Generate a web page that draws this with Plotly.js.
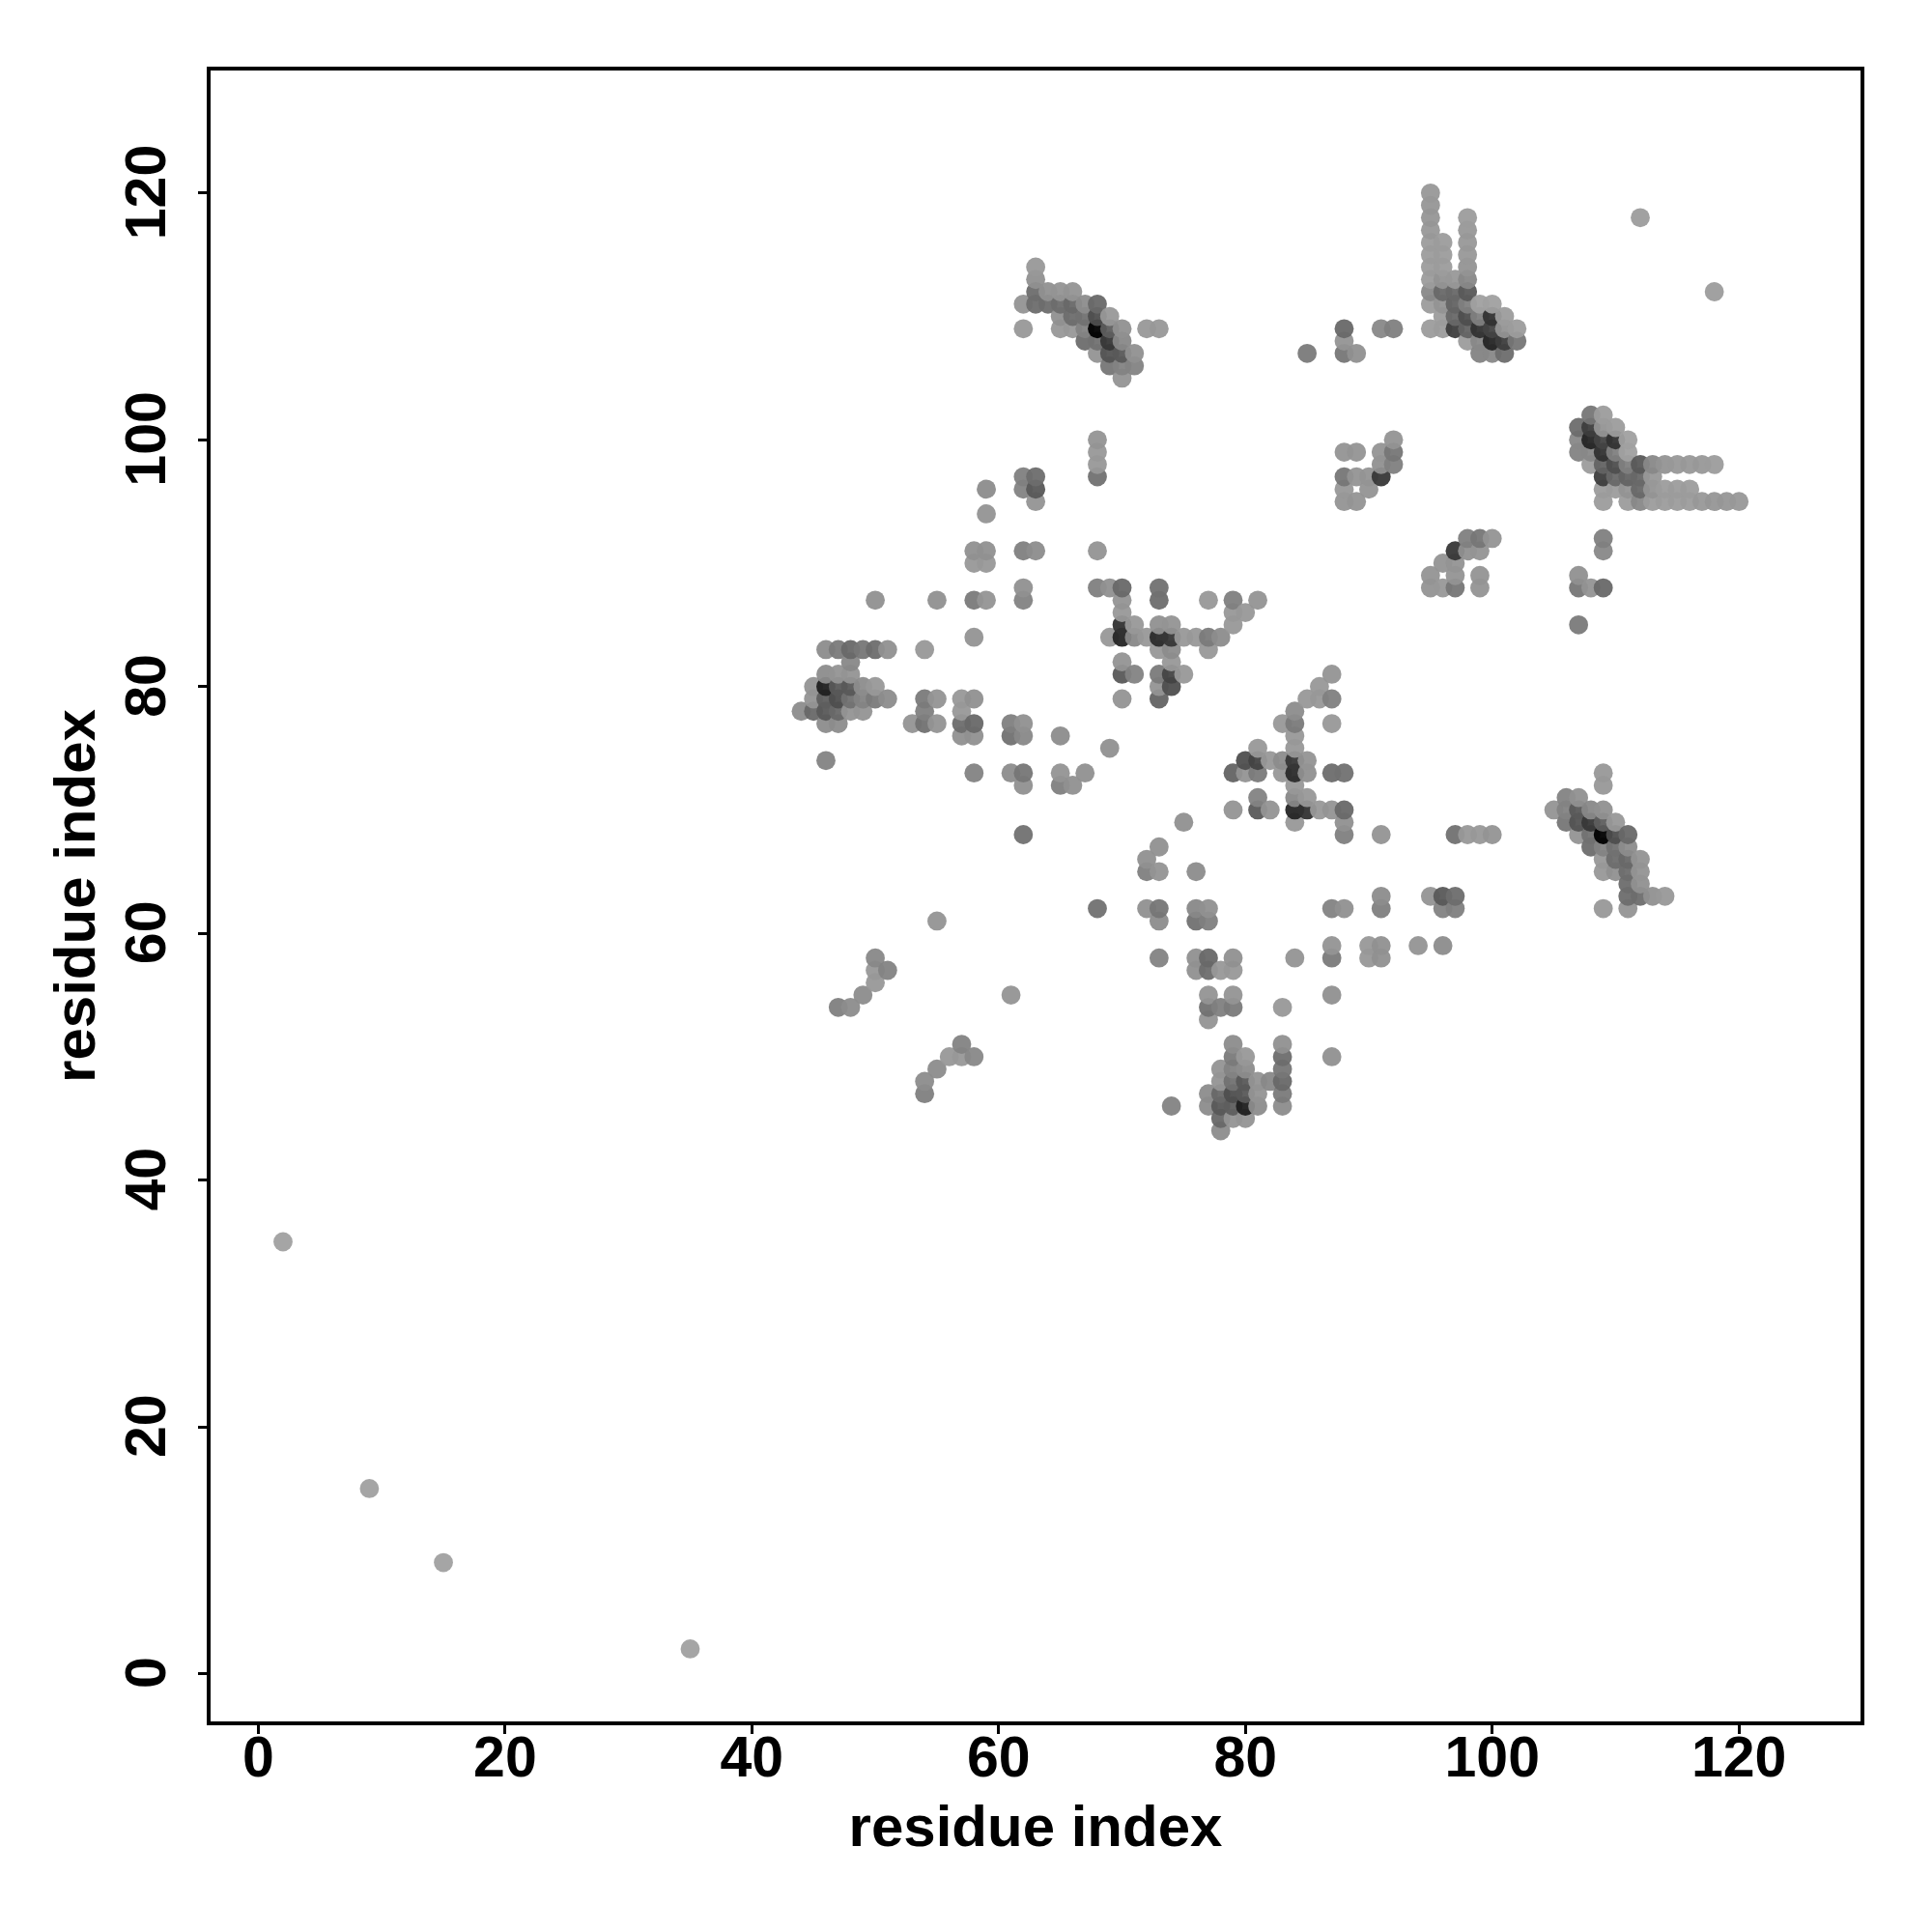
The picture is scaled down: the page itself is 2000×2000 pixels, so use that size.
<!DOCTYPE html>
<html>
<head>
<meta charset="utf-8">
<script src="https://cdn.plot.ly/plotly-3.0.1.min.js"></script>
<style>html,body{margin:0;padding:0;background:#fff}</style>
</head>
<body>
<div id="chart" style="width:2000px;height:2000px"></div>
<script>
// Contact pairs (i < j); each line holds one value of i. The map is symmetric, so each pair is drawn as (i,j) and (j,i).
const residueI = [
2,
9,
44,
45,45,45,
46,46,46,46,46,46,46,
47,47,47,47,47,47,47,
48,48,48,48,48,48,48,
49,49,49,49,49,
50,50,50,50,50,50,50,
51,51,51,
53,
54,54,54,54,
55,55,55,55,
57,57,57,57,
58,58,58,58,58,58,58,58,
59,59,59,59,59,
61,61,61,
62,62,62,62,62,62,62,62,62,62,62,62,
63,63,63,63,63,63,63,63,
64,64,
65,65,65,65,65,65,65,
66,66,66,66,66,
67,67,67,67,67,
68,68,68,68,68,68,68,68,68,68,68,
69,69,69,69,69,69,69,69,
70,70,70,70,70,70,70,70,70,70,70,70,70,
71,71,71,71,71,
72,72,
73,73,73,73,73,73,73,73,73,
74,74,74,74,74,74,
75,75,
76,
77,77,77,
78,
79,79,79,
80,
81,
85,
88,88,88,88,88,88,88,
89,89,89,89,
90,90,
91,91,91,91,
92,92,92,92,
95,95,95,95,95,95,95,95,95,95,95,
96,96,96,96,96,96,96,96,
97,97,97,97,97,
98,98,98,98,98,98,98,98,98,98,98,
99,99,99,99,99,
100,100,100,100,100,
101,101,101,101,
102,102,
112
];
const residueJ = [
35,
15,
78,
80,79,78,
83,81,80,79,78,77,74,
83,81,80,79,78,77,54,
83,82,81,80,79,78,54,
83,80,79,78,55,
87,83,80,79,58,57,56,
83,79,57,
77,
83,79,78,77,
87,79,77,61,
79,78,77,76,
91,90,87,84,79,77,76,73,
96,94,91,90,87,
77,76,73,
111,109,97,96,91,88,87,77,76,73,72,68,
114,113,112,111,97,96,95,91,
112,111,
112,111,110,109,76,73,72,
112,111,110,109,72,
111,110,109,108,73,
111,110,109,108,107,100,99,98,97,91,88,
110,109,108,107,106,88,84,75,
109,108,107,106,105,88,87,86,85,84,82,81,79,
107,106,85,84,81,
109,84,
109,88,87,85,84,83,81,80,79,
85,84,83,82,81,80,
84,81,
84,
87,84,83,
84,
87,86,85,
86,
87,
107,
109,108,107,99,97,96,95,
107,99,97,95,
97,96,
109,99,98,97,
109,100,99,98,
120,119,118,117,116,115,114,113,112,111,109,
116,115,114,113,112,111,110,109,
113,112,111,110,109,
118,117,116,115,114,113,112,111,110,109,108,
111,110,109,108,107,
111,110,109,108,107,
110,109,108,107,
109,108,
118
];
// Apparent grey level of each pair on white (0 black, 255 white).
const shade = [
165,
165,
140,
150,150,100,
140,140,35,90,85,140,130,
120,150,85,75,100,140,125,
100,135,150,85,110,150,140,
115,140,130,150,140,
145,105,155,120,135,155,155,
145,140,130,
150,
155,120,125,110,
145,150,150,150,
155,155,105,145,
145,155,120,150,145,100,145,130,
140,150,145,155,150,
125,110,140,
150,155,125,130,125,145,130,145,135,115,145,110,
155,145,105,105,105,85,150,140,
145,105,
150,105,145,155,140,150,125,
150,100,105,155,145,
140,110,130,105,145,
100,75,5,110,150,150,155,155,110,150,125,
155,90,55,80,115,145,155,145,
145,135,85,130,150,100,150,155,50,40,150,85,150,
145,130,155,135,130,
155,155,
155,110,105,145,45,155,120,150,95,
150,55,140,155,65,75,
155,155,
155,
155,120,155,
140,
125,155,155,
155,
150,
120,
100,150,115,150,115,155,150,
145,150,150,150,
150,150,
135,150,145,55,
125,150,115,125,
155,153,153,155,160,160,160,160,135,160,160,
160,160,160,150,100,150,160,160,
155,100,95,100,60,
160,155,155,155,150,135,85,125,75,95,160,
165,125,50,135,130,
165,50,65,40,135,
160,150,60,105,
160,115,
160
];
const tickValues = [0, 20, 40, 60, 80, 100, 120];
const axisLabel = 'residue index';

const FONT = '"Liberation Sans", Arial, sans-serif';
const OPACITY = 0.95;

const pts = [];
residueI.forEach(function (a, k) {
  pts.push({x: a, y: residueJ[k], g: shade[k]});
  pts.push({x: residueJ[k], y: a, g: shade[k]});
});
pts.sort(function (p, q) { return p.x - q.x || p.y - q.y; });
function colorOf(g) {
  // the mid greys were read slightly dark by eye: lift them a little
  const lifted = g + 12 * Math.sin(Math.PI * Math.min(g, 165) / 165);
  const v = Math.max(0, Math.round((lifted - 255 * (1 - OPACITY)) / OPACITY));
  return 'rgb(' + v + ',' + v + ',' + v + ')';
}

const axisBase = {
  autorange: false,
  tickmode: 'array',
  tickvals: tickValues,
  ticktext: tickValues.map(String),
  ticks: 'outside',
  ticklen: 9,
  tickwidth: 3,
  tickcolor: '#000',
  showline: true,
  linecolor: '#000',
  linewidth: 3.6,
  mirror: true,
  showgrid: false,
  zeroline: false,
  tickfont: {family: FONT, size: 59, color: '#000', weight: 'bold'}
};

Plotly.newPlot('chart', [{
  type: 'scatter',
  mode: 'markers',
  x: pts.map(function (p) { return p.x; }),
  y: pts.map(function (p) { return p.y; }),
  marker: {
    size: 19.8,
    color: pts.map(function (p) { return colorOf(p.g); }),
    opacity: OPACITY,
    line: {width: 0}
  },
  hoverinfo: 'x+y'
}], {
  width: 2000,
  height: 2000,
  margin: {l: 217.5, r: 73.5, t: 72.5, b: 217.5, pad: 0},
  paper_bgcolor: '#fff',
  plot_bgcolor: '#fff',
  showlegend: false,
  xaxis: Object.assign({}, axisBase, {
    range: [-3.87, 129.85],
    ticklabelstandoff: -26,
    title: {text: axisLabel, font: {family: FONT, size: 60, color: '#000', weight: 'bold'}, standoff: 18}
  }),
  yaxis: Object.assign({}, axisBase, {
    range: [-3.875, 129.93],
    tickangle: -90,
    ticklabelstandoff: 11,
    ticklabelshift: 8,
    title: {text: axisLabel, font: {family: FONT, size: 60, color: '#000', weight: 'bold'}, standoff: 1}
  })
}, {displayModeBar: false, staticPlot: true});
</script>
</body>
</html>
